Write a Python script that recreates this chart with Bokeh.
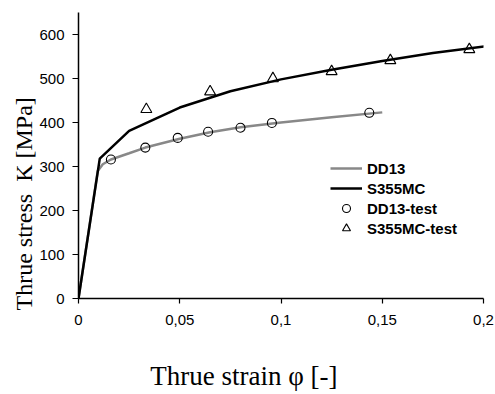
from bokeh.plotting import figure
from bokeh.models import Range1d, FixedTicker, Legend, LegendItem, Title
from bokeh.embed import file_html
from bokeh.resources import INLINE

# ---- data ----
dd13_strain = [0.0, 0.0095, 0.012, 0.016, 0.025, 0.033, 0.05, 0.065, 0.08, 0.1, 0.125, 0.15]
dd13_stress = [0, 290, 305, 316, 330, 343, 363, 378, 389, 400, 412, 423]

s355_strain = [0.0, 0.0105, 0.025, 0.05, 0.075, 0.1, 0.125, 0.15, 0.175, 0.204]
s355_stress = [0, 318, 381, 434, 471, 498, 520, 540, 558, 575]

dd13_test_strain = [0.016, 0.033, 0.049, 0.064, 0.080, 0.0955, 0.1436]
dd13_test_stress = [316, 343, 365, 379, 388, 399, 422]

s355_test_strain = [0.0335, 0.065, 0.096, 0.125, 0.154, 0.193]
s355_test_stress = [430, 470, 500, 516, 541, 566]

x_ticks = [0, 0.05, 0.1, 0.15, 0.2]
x_tick_labels = ["0", "0,05", "0,1", "0,15", "0,2"]
y_ticks = [0, 100, 200, 300, 400, 500, 600]

x_title = "Thrue strain \u03c6 [-]"
y_title = "Thrue stress\u00a0 K [MPa]"

p = figure(width=495, height=394, output_backend="svg", toolbar_location=None,
           x_range=Range1d(0, 0.2), y_range=Range1d(0, 650),
           min_border_left=78, min_border_right=12, min_border_top=12, min_border_bottom=96)
p.outline_line_color = None
p.grid.visible = False
p.background_fill_color = "white"

for ax in (p.xaxis, p.yaxis):
    ax.axis_line_color = "black"
    ax.axis_line_width = 1.5
    ax.major_tick_line_color = "black"
    ax.major_tick_line_width = 1.2
    ax.major_tick_in = 0
    ax.minor_tick_line_color = None
    ax.major_label_text_font = "Liberation Sans"
    ax.major_label_text_font_size = "15px"
    ax.major_label_text_color = "black"

p.xaxis.ticker = FixedTicker(ticks=x_ticks)
p.xaxis.major_label_overrides = {t: l for t, l in zip(x_ticks, x_tick_labels)}
p.xaxis.major_tick_out = 5
p.xaxis.major_label_standoff = 11
p.yaxis.ticker = FixedTicker(ticks=y_ticks)
p.yaxis.major_tick_out = 6
p.yaxis.major_label_standoff = 8

# x title: axis label, shifted left of the frame centre with trailing no-break spaces
p.xaxis.axis_label = x_title + "\u00a0" * 11
p.xaxis.axis_label_standoff = 33
p.xaxis.axis_label_text_font = "Liberation Serif"
p.xaxis.axis_label_text_font_size = "27px"
p.xaxis.axis_label_text_font_style = "normal"
p.xaxis.axis_label_text_color = "black"

r_dd13 = p.line(dd13_strain, dd13_stress, line_color="#888888", line_width=2.5)
r_s355 = p.line(s355_strain, s355_stress, line_color="black", line_width=2.5)
r_dd13t = p.scatter(dd13_test_strain, dd13_test_stress, marker="circle", size=9,
                    line_color="black", line_width=1.1, fill_alpha=0)
r_s355t = p.scatter(s355_test_strain, s355_test_stress, marker="triangle", size=11,
                    line_color="black", line_width=1.1, fill_alpha=0)

legend = Legend(items=[LegendItem(label="DD13", renderers=[r_dd13]),
                       LegendItem(label="S355MC", renderers=[r_s355]),
                       LegendItem(label="DD13-test", renderers=[r_dd13t]),
                       LegendItem(label="S355MC-test", renderers=[r_s355t])],
                location=(252, 60), glyph_width=32, glyph_height=20, label_height=20,
                spacing=0, padding=0, margin=0, label_standoff=5,
                border_line_color=None, background_fill_alpha=0,
                label_text_font="Liberation Sans", label_text_font_size="15px",
                label_text_font_style="bold", label_text_color="black")
p.add_layout(legend, "center")

p.add_layout(Title(text=y_title, align="left", offset=-12, standoff=0,
                   text_font="Liberation Serif", text_font_size="24px",
                   text_font_style="normal", text_color="black"), "left")

open("out.html", "w").write(file_html(p, INLINE))
